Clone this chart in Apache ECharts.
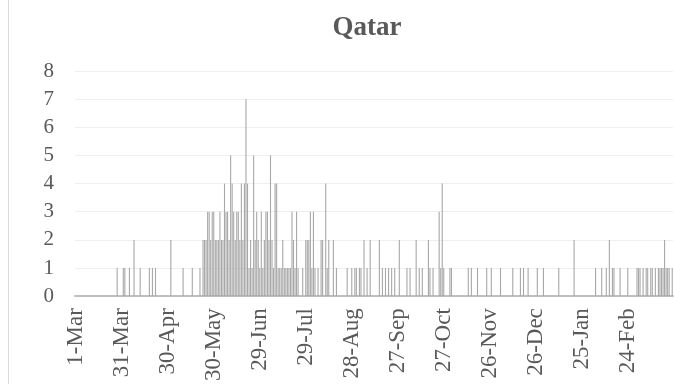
<!DOCTYPE html>
<html>
<head>
<meta charset="utf-8">
<script src="https://cdn.jsdelivr.net/npm/echarts@6/dist/echarts.min.js"></script>
<style>
  html, body { margin: 0; padding: 0; background: #fff; }
  #chart { width: 674px; height: 384px; }
</style>
</head>
<body>
<div id="chart"></div>
<script>
// day index counted from 1-Mar (2020), and the value read for that day
const dayIndex = [
  27, 31, 32, 35, 38, 42, 48, 50, 52, 62,
  70, 76, 81, 83, 84, 85, 86, 87, 88, 89, 90, 91, 92, 93, 94, 95, 96, 97, 98, 99,
  100, 101, 102, 103, 104, 105, 106, 107, 108, 109, 110, 111, 112, 113, 114, 115, 116, 117, 118, 119,
  120, 121, 122, 123, 124, 125, 126, 127, 128, 129, 130, 131, 132, 133, 134, 135, 136, 137, 138, 139,
  140, 141, 142, 143, 144, 145, 148, 150, 151, 152, 153, 154, 155, 156, 158, 160, 161, 163, 164, 165,
  168, 170, 177, 180, 182, 183, 185, 186, 188, 190, 192, 198, 200, 202, 204, 206, 208, 211, 216, 218,
  222, 224, 226, 230, 231, 233, 237, 238, 239, 240, 244, 245, 256, 258, 262, 268, 271, 277, 285, 290,
  292, 295, 301, 305, 315, 325, 339, 343, 346, 348, 350, 351, 355, 360, 366, 367, 368, 370, 372, 373,
  375, 376, 378, 380, 381, 382, 383, 384, 385, 386, 387, 389
]
const dayValue = [
  1, 1, 1, 1, 2, 1, 1, 1, 1, 2,
  1, 1, 1, 2, 2, 2, 3, 3, 2, 3, 3, 2, 2, 2, 3, 2, 2, 4, 3, 3,
  2, 5, 4, 3, 2, 3, 3, 2, 4, 2, 4, 7, 4, 1, 2, 1, 5, 2, 3, 2,
  1, 3, 1, 2, 3, 3, 2, 5, 2, 1, 4, 4, 1, 1, 1, 2, 1, 1, 1, 1,
  1, 3, 2, 1, 3, 1, 1, 2, 2, 2, 3, 1, 3, 1, 1, 2, 2, 4, 1, 2,
  2, 1, 1, 1, 1, 1, 1, 1, 2, 1, 2, 2, 1, 1, 1, 1, 1, 2, 1, 1,
  2, 1, 1, 2, 1, 1, 3, 1, 4, 1, 1, 1, 1, 1, 1, 1, 1, 1, 1, 1,
  1, 1, 1, 1, 1, 2, 1, 1, 1, 2, 1, 1, 1, 1, 1, 1, 1, 1, 1, 1,
  1, 1, 1, 1, 1, 1, 1, 2, 1, 1, 1, 1
]
const dayCount = 390
const yTicks = [0, 8, 1] // min, max, step

// category labels: one per day starting 1-Mar-2020
const months = ['Jan', 'Feb', 'Mar', 'Apr', 'May', 'Jun', 'Jul', 'Aug', 'Sep', 'Oct', 'Nov', 'Dec']
const days = []
for (let i = 0; i < dayCount; i++) {
  const d = new Date(Date.UTC(2020, 2, 1 + i))
  days.push(d.getUTCDate() + '-' + months[d.getUTCMonth()])
}

const chart = echarts.init(document.getElementById('chart'))
const textColor = '#595959'
const font = 'Liberation Serif'

const option = {
  animation: false,
  title: {
    text: 'Qatar',
    left: 362,
    top: 10,
    textAlign: 'center',
    textStyle: { fontFamily: font, fontSize: 27, fontWeight: 'bold', color: textColor }
  },
  grid: { left: 75, right: 1, top: 71, bottom: 86, containLabel: false },
  graphic: [
    {
      type: 'line',
      shape: { x1: 8.5, y1: 0, x2: 8.5, y2: 384 },
      style: { stroke: '#d9d9d9', lineWidth: 1 }
    }
  ],
  xAxis: {
    type: 'category',
    data: days,
    boundaryGap: true,
    axisTick: { show: false },
    axisLine: { show: true, lineStyle: { color: '#bfbfbf', width: 2 } },
    axisLabel: {
      interval: 29,
      rotate: 90,
      margin: 12,
      fontFamily: font,
      fontSize: 23,
      color: textColor
    },
    splitLine: { show: false }
  },
  yAxis: {
    type: 'value',
    min: yTicks[0],
    max: yTicks[1],
    interval: yTicks[2],
    axisLine: { show: false },
    axisTick: { show: false },
    axisLabel: { margin: 21, fontFamily: font, fontSize: 21, color: textColor },
    splitLine: { lineStyle: { color: '#efefef', width: 1 } }
  },
  series: [
    {
      type: 'bar',
      data: dayIndex.map((d, i) => [d, dayValue[i]]),
      barWidth: 1.1,
      itemStyle: { color: '#a8a8a8' }
    }
  ]
}

chart.setOption(option)
</script>
</body>
</html>
